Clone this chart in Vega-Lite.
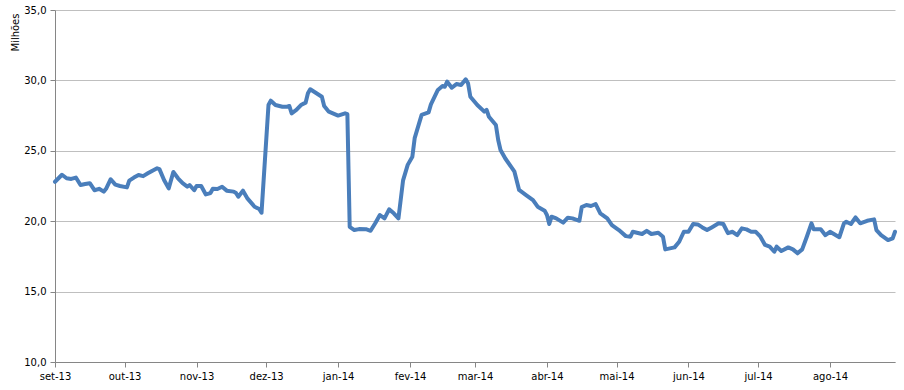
{
  "$schema": "https://vega.github.io/schema/vega-lite/v6.json",
  "width": 840,
  "height": 352,
  "autosize": {"type": "none"},
  "padding": {"left": 55, "top": 10, "right": 9, "bottom": 28},
  "background": "white",
  "config": {"view": {"stroke": null}, "font": "DejaVu Sans"},
  "data": {"values": [
    {"date": "2013-09-01", "value": 22.8},
    {"date": "2013-09-04", "value": 23.3},
    {"date": "2013-09-06", "value": 23.05},
    {"date": "2013-09-08", "value": 23.0},
    {"date": "2013-09-10", "value": 23.1},
    {"date": "2013-09-12", "value": 22.57},
    {"date": "2013-09-14", "value": 22.64},
    {"date": "2013-09-16", "value": 22.7},
    {"date": "2013-09-18", "value": 22.2},
    {"date": "2013-09-20", "value": 22.3},
    {"date": "2013-09-22", "value": 22.1},
    {"date": "2013-09-23", "value": 22.3},
    {"date": "2013-09-25", "value": 22.98},
    {"date": "2013-09-27", "value": 22.6},
    {"date": "2013-09-29", "value": 22.5},
    {"date": "2013-10-02", "value": 22.4},
    {"date": "2013-10-03", "value": 22.88},
    {"date": "2013-10-05", "value": 23.1},
    {"date": "2013-10-07", "value": 23.28},
    {"date": "2013-10-09", "value": 23.2},
    {"date": "2013-10-11", "value": 23.4},
    {"date": "2013-10-13", "value": 23.59},
    {"date": "2013-10-15", "value": 23.76},
    {"date": "2013-10-16", "value": 23.7},
    {"date": "2013-10-18", "value": 22.93},
    {"date": "2013-10-20", "value": 22.33},
    {"date": "2013-10-22", "value": 23.5},
    {"date": "2013-10-24", "value": 23.05},
    {"date": "2013-10-26", "value": 22.7},
    {"date": "2013-10-28", "value": 22.45},
    {"date": "2013-10-29", "value": 22.57},
    {"date": "2013-10-31", "value": 22.2},
    {"date": "2013-11-01", "value": 22.5},
    {"date": "2013-11-03", "value": 22.5},
    {"date": "2013-11-05", "value": 21.9},
    {"date": "2013-11-07", "value": 22.0},
    {"date": "2013-11-08", "value": 22.3},
    {"date": "2013-11-10", "value": 22.29},
    {"date": "2013-11-12", "value": 22.45},
    {"date": "2013-11-14", "value": 22.17},
    {"date": "2013-11-17", "value": 22.1},
    {"date": "2013-11-18", "value": 22.0},
    {"date": "2013-11-19", "value": 21.74},
    {"date": "2013-11-21", "value": 22.17},
    {"date": "2013-11-23", "value": 21.6},
    {"date": "2013-11-26", "value": 21.03},
    {"date": "2013-11-28", "value": 20.87},
    {"date": "2013-11-29", "value": 20.6},
    {"date": "2013-12-02", "value": 28.25},
    {"date": "2013-12-03", "value": 28.56},
    {"date": "2013-12-05", "value": 28.25},
    {"date": "2013-12-08", "value": 28.13},
    {"date": "2013-12-10", "value": 28.13},
    {"date": "2013-12-11", "value": 28.18},
    {"date": "2013-12-12", "value": 27.66},
    {"date": "2013-12-14", "value": 27.9},
    {"date": "2013-12-16", "value": 28.25},
    {"date": "2013-12-18", "value": 28.42},
    {"date": "2013-12-19", "value": 29.08},
    {"date": "2013-12-20", "value": 29.37},
    {"date": "2013-12-22", "value": 29.16},
    {"date": "2013-12-25", "value": 28.84},
    {"date": "2013-12-26", "value": 28.18},
    {"date": "2013-12-28", "value": 27.78},
    {"date": "2014-01-01", "value": 27.5},
    {"date": "2014-01-04", "value": 27.66},
    {"date": "2014-01-05", "value": 27.6},
    {"date": "2014-01-06", "value": 19.6},
    {"date": "2014-01-08", "value": 19.37},
    {"date": "2014-01-10", "value": 19.44},
    {"date": "2014-01-13", "value": 19.43},
    {"date": "2014-01-15", "value": 19.32},
    {"date": "2014-01-17", "value": 19.85},
    {"date": "2014-01-19", "value": 20.44},
    {"date": "2014-01-21", "value": 20.2},
    {"date": "2014-01-23", "value": 20.84},
    {"date": "2014-01-25", "value": 20.56},
    {"date": "2014-01-27", "value": 20.2},
    {"date": "2014-01-29", "value": 22.9},
    {"date": "2014-01-31", "value": 24.0},
    {"date": "2014-02-02", "value": 24.58},
    {"date": "2014-02-03", "value": 25.9},
    {"date": "2014-02-06", "value": 27.55},
    {"date": "2014-02-09", "value": 27.73},
    {"date": "2014-02-10", "value": 28.3},
    {"date": "2014-02-13", "value": 29.32},
    {"date": "2014-02-15", "value": 29.6},
    {"date": "2014-02-16", "value": 29.55},
    {"date": "2014-02-17", "value": 29.91},
    {"date": "2014-02-19", "value": 29.48},
    {"date": "2014-02-21", "value": 29.74},
    {"date": "2014-02-23", "value": 29.67},
    {"date": "2014-02-25", "value": 30.08},
    {"date": "2014-02-26", "value": 29.8},
    {"date": "2014-02-27", "value": 28.84},
    {"date": "2014-03-02", "value": 28.25},
    {"date": "2014-03-05", "value": 27.78},
    {"date": "2014-03-06", "value": 27.9},
    {"date": "2014-03-07", "value": 27.42},
    {"date": "2014-03-10", "value": 26.83},
    {"date": "2014-03-11", "value": 25.77},
    {"date": "2014-03-12", "value": 25.06},
    {"date": "2014-03-14", "value": 24.47},
    {"date": "2014-03-18", "value": 23.52},
    {"date": "2014-03-20", "value": 22.22},
    {"date": "2014-03-23", "value": 21.86},
    {"date": "2014-03-26", "value": 21.5},
    {"date": "2014-03-28", "value": 21.03},
    {"date": "2014-03-31", "value": 20.75},
    {"date": "2014-04-01", "value": 20.44},
    {"date": "2014-04-02", "value": 19.8},
    {"date": "2014-04-03", "value": 20.32},
    {"date": "2014-04-05", "value": 20.2},
    {"date": "2014-04-08", "value": 19.9},
    {"date": "2014-04-10", "value": 20.25},
    {"date": "2014-04-12", "value": 20.2},
    {"date": "2014-04-15", "value": 20.03},
    {"date": "2014-04-16", "value": 21.0},
    {"date": "2014-04-18", "value": 21.15},
    {"date": "2014-04-20", "value": 21.08},
    {"date": "2014-04-22", "value": 21.22},
    {"date": "2014-04-24", "value": 20.56},
    {"date": "2014-04-27", "value": 20.2},
    {"date": "2014-04-29", "value": 19.72},
    {"date": "2014-05-02", "value": 19.37},
    {"date": "2014-05-05", "value": 18.94},
    {"date": "2014-05-07", "value": 18.9},
    {"date": "2014-05-08", "value": 19.25},
    {"date": "2014-05-12", "value": 19.09},
    {"date": "2014-05-14", "value": 19.32},
    {"date": "2014-05-16", "value": 19.09},
    {"date": "2014-05-19", "value": 19.18},
    {"date": "2014-05-21", "value": 18.9},
    {"date": "2014-05-22", "value": 18.0},
    {"date": "2014-05-24", "value": 18.07},
    {"date": "2014-05-26", "value": 18.14},
    {"date": "2014-05-28", "value": 18.54},
    {"date": "2014-05-30", "value": 19.25},
    {"date": "2014-06-01", "value": 19.25},
    {"date": "2014-06-03", "value": 19.8},
    {"date": "2014-06-05", "value": 19.77},
    {"date": "2014-06-07", "value": 19.56},
    {"date": "2014-06-09", "value": 19.37},
    {"date": "2014-06-11", "value": 19.56},
    {"date": "2014-06-14", "value": 19.85},
    {"date": "2014-06-16", "value": 19.8},
    {"date": "2014-06-18", "value": 19.15},
    {"date": "2014-06-20", "value": 19.25},
    {"date": "2014-06-22", "value": 19.01},
    {"date": "2014-06-24", "value": 19.49},
    {"date": "2014-06-26", "value": 19.42},
    {"date": "2014-06-28", "value": 19.25},
    {"date": "2014-06-30", "value": 19.25},
    {"date": "2014-07-02", "value": 18.9},
    {"date": "2014-07-04", "value": 18.31},
    {"date": "2014-07-06", "value": 18.19},
    {"date": "2014-07-08", "value": 17.83},
    {"date": "2014-07-09", "value": 18.19},
    {"date": "2014-07-11", "value": 17.88},
    {"date": "2014-07-14", "value": 18.14},
    {"date": "2014-07-16", "value": 18.0},
    {"date": "2014-07-18", "value": 17.72},
    {"date": "2014-07-20", "value": 18.0},
    {"date": "2014-07-22", "value": 18.9},
    {"date": "2014-07-24", "value": 19.85},
    {"date": "2014-07-25", "value": 19.42},
    {"date": "2014-07-28", "value": 19.42},
    {"date": "2014-07-30", "value": 19.01},
    {"date": "2014-08-01", "value": 19.25},
    {"date": "2014-08-05", "value": 18.86},
    {"date": "2014-08-07", "value": 19.85},
    {"date": "2014-08-08", "value": 19.96},
    {"date": "2014-08-10", "value": 19.8},
    {"date": "2014-08-12", "value": 20.27},
    {"date": "2014-08-14", "value": 19.85},
    {"date": "2014-08-17", "value": 20.03},
    {"date": "2014-08-20", "value": 20.13},
    {"date": "2014-08-21", "value": 19.37},
    {"date": "2014-08-23", "value": 19.01},
    {"date": "2014-08-26", "value": 18.66},
    {"date": "2014-08-28", "value": 18.78},
    {"date": "2014-08-29", "value": 19.25}
  ]},
  "mark": {"type": "line", "color": "#4a7ebb", "strokeWidth": 4, "strokeJoin": "round", "strokeCap": "round"},
  "encoding": {
    "x": {
      "field": "date",
      "type": "temporal",
      "scale": {"type": "utc", "domain": [{"year": 2013, "month": 9, "date": 1, "utc": true}, {"year": 2014, "month": 8, "date": 29, "utc": true}]},
      "axis": {
        "title": null,
        "grid": false,
        "tickCount": {"interval": "month", "step": 1},
        "labelExpr": "['jan','fev','mar','abr','mai','jun','jul','ago','set','out','nov','dez'][utcmonth(datum.value)] + '-' + utcFormat(datum.value, '%y')",
        "labelFontSize": 10,
        "labelColor": "#000000",
        "labelPadding": 4,
        "labelFlush": false,
        "labelOverlap": false,
        "domainColor": "#868686",
        "tickColor": "#868686",
        "tickSize": 5
      }
    },
    "y": {
      "field": "value",
      "type": "quantitative",
      "scale": {"domain": [10, 35]},
      "axis": {
        "values": [10, 15, 20, 25, 30, 35],
        "labelExpr": "replace(format(datum.value, '.1f'), '.', ',')",
        "labelFontSize": 10,
        "labelColor": "#000000",
        "labelPadding": 4,
        "grid": true,
        "gridColor": "#bfbfbf",
        "domainColor": "#868686",
        "tickColor": "#868686",
        "tickSize": 5,
        "title": "Milhões",
        "titleFontSize": 10,
        "titleFontWeight": "normal",
        "titleColor": "#000000",
        "titleAngle": -90,
        "titleX": -40,
        "titleY": 3,
        "titleAlign": "right",
        "titleBaseline": "middle"
      }
    }
  }
}
